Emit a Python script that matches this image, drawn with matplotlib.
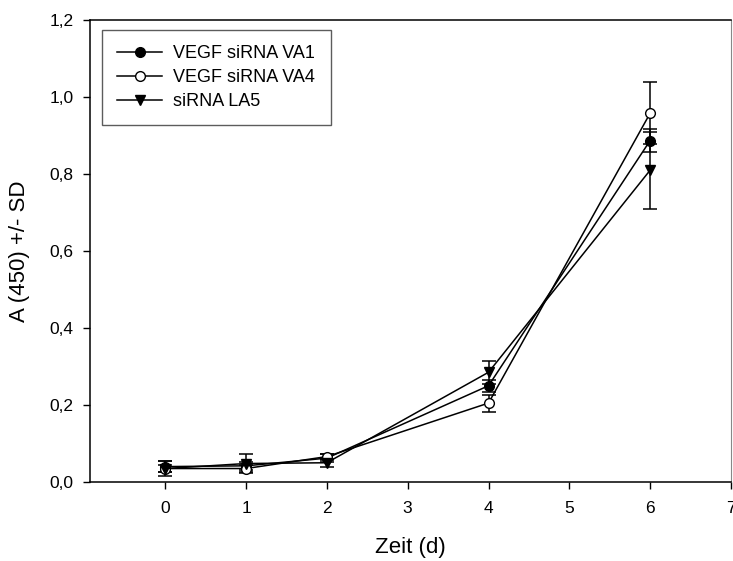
import matplotlib
matplotlib.use("Agg")
import matplotlib.pyplot as plt
from matplotlib.lines import Line2D
from matplotlib.ticker import FuncFormatter

plt.rcParams['font.family'] = ['Liberation Sans', 'DejaVu Sans']

days = [0, 1, 2, 4, 6]
labels = ["VEGF siRNA VA1", "VEGF siRNA VA4", "siRNA LA5"]
va1 = [0.040, 0.042, 0.062, 0.250, 0.887]
va1_sd = [0.015, 0.010, 0.010, 0.015, 0.030]
va4 = [0.035, 0.035, 0.066, 0.205, 0.958]
va4_sd = [0.010, 0.010, 0.008, 0.022, 0.080]
la5 = [0.035, 0.048, 0.050, 0.285, 0.810]
la5_sd = [0.020, 0.025, 0.010, 0.030, 0.100]
xticks = [0, 1, 2, 3, 4, 5, 6, 7]
yticks = [0.0, 0.2, 0.4, 0.6, 0.8, 1.0, 1.2]

W, H = 733, 561
fig = plt.figure(figsize=(W / 100, H / 100), dpi=100)
ax = fig.add_axes([90 / W, 1 - 482 / H, (731 - 90) / W, (482 - 20) / H])

common = dict(color='black', ecolor='black', lw=1.1, elinewidth=1.1,
              capsize=5, capthick=1.1, markersize=7)
series = [(va1, va1_sd, 'o', 'black'), (va4, va4_sd, 'o', 'white'),
          (la5, la5_sd, 'v', 'black')]
handles = []
for (vals, sd, mk, fc), lab in zip(series, labels):
    ax.errorbar(days, vals, yerr=sd, marker=mk, mfc=fc, mec='black', **common)
    handles.append(Line2D([], [], color='black', lw=1.1, marker=mk,
                          mfc=fc, mec='black', markersize=7, label=lab))

ax.set_xlim(-0.93, 7.0)
ax.set_ylim(0, 1.2)
ax.set_xticks(xticks)
ax.set_yticks(yticks)
ax.yaxis.set_major_formatter(FuncFormatter(lambda v, p: f"{v:.1f}".replace('.', ',')))
ax.tick_params(axis='both', direction='out', length=5, width=1, labelsize=12.5)
ax.tick_params(axis='x', pad=9)
ax.tick_params(axis='y', pad=7)
for s in ['left', 'bottom', 'top']:
    ax.spines[s].set_linewidth(1.1)
ax.spines['right'].set_color('#888888')

ax.set_xlabel("Zeit (d)", fontsize=16, labelpad=15)
ax.set_ylabel("A (450) +/- SD", fontsize=16, labelpad=14)

leg = ax.legend(handles=handles, loc='upper left',
                bbox_to_anchor=(102 / W, 1 - 30 / H),
                bbox_transform=fig.transFigure, borderaxespad=0,
                fancybox=False, edgecolor='#333333', fontsize=13,
                handlelength=2.5, labelspacing=0.38, borderpad=0.85,
                handletextpad=0.6)
leg.get_frame().set_linewidth(1.0)

fig.savefig("out.png", dpi=100)
